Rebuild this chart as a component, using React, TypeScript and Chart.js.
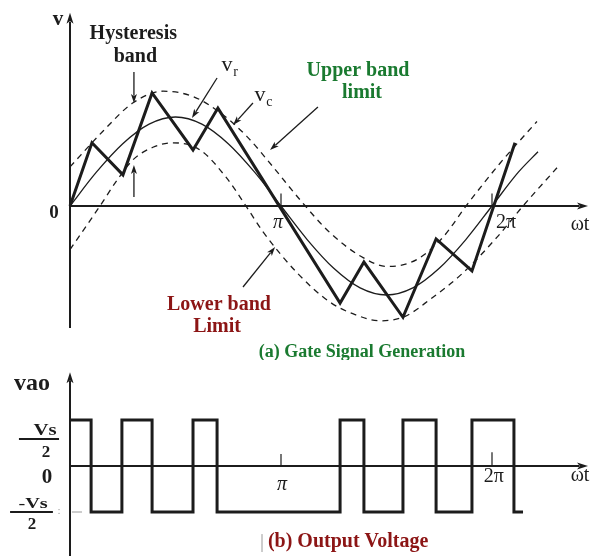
import React, { useEffect, useRef } from "react";
import { Chart, registerables } from "chart.js";

Chart.register(...registerables);

// ---------- data (x in multiples of π) ----------
// (a) top panel: y in units of the reference amplitude
const refX = [0, 0.125, 0.25, 0.375, 0.5, 0.625, 0.75, 0.875, 1, 1.125, 1.25, 1.375, 1.5, 1.625, 1.75, 1.875, 2, 2.125, 2.218];
const refV = [0, 0.38, 0.7, 0.92, 1.0, 0.92, 0.7, 0.38, 0, -0.38, -0.7, -0.92, -1.0, -0.92, -0.7, -0.38, 0, 0.38, 0.61];

const upperX = [0, 0.156, 0.299, 0.441, 0.583, 0.711, 0.839, 0.962, 1.09, 1.232, 1.389, 1.502, 1.645, 1.768, 1.877, 2.038, 2.213];
const upperV = [0.44, 0.84, 1.16, 1.29, 1.23, 1.05, 0.78, 0.44, 0.07, -0.3, -0.58, -0.68, -0.6, -0.35, 0.0, 0.48, 0.95];

const lowerX = [0, 0.142, 0.223, 0.299, 0.393, 0.488, 0.616, 0.744, 0.834, 0.915, 1.076, 1.232, 1.351, 1.469, 1.588, 1.706, 1.863, 2.024, 2.147, 2.308];
const lowerV = [-0.49, 0.0, 0.29, 0.52, 0.66, 0.71, 0.63, 0.31, 0.0, -0.29, -0.75, -1.08, -1.22, -1.29, -1.24, -1.05, -0.75, -0.35, 0.0, 0.43];

const vcX = [0, 0.104, 0.251, 0.389, 0.583, 0.701, 1.28, 1.393, 1.578, 1.735, 1.905, 2.109];
const vcV = [0, 0.71, 0.35, 1.27, 0.63, 1.1, -1.09, -0.63, -1.25, -0.37, -0.73, 0.71];

// (b) bottom panel: y in units of Vs/2 (level held after each switching instant)
const switchX = [0, 0.1, 0.246, 0.389, 0.583, 0.697, 1.28, 1.393, 1.578, 1.735, 1.905, 2.104, 2.147];
const switchLevel = [1, -1, 1, -1, 1, -1, 1, -1, 1, -1, 1, -1, -1];

const xTickValues = [1, 2];
const xTickLabels = ["π", "2π"];

// ---------- styling ----------
const FONT = "'Liberation Serif', 'Times New Roman', serif";
const INK = "#1c1c1c";
const GREEN = "#1a7a30";
const RED = "#8c1515";
const GREY = "#9a9a9a";

const W = 592;
const TOP_H = 360;
const BOT_H = 196;
const PX_PER_PI = 211;
const ORIGIN_X = 70;

const pts = (xs: number[], ys: number[]) => xs.map((x, i) => ({ x, y: ys[i] }));

type Ctx = CanvasRenderingContext2D;

function txt(ctx: Ctx, s: string, x: number, y: number, font: string, color = INK, sx = 1) {
  ctx.save();
  ctx.font = font + " " + FONT;
  ctx.fillStyle = color;
  ctx.textAlign = "center";
  ctx.textBaseline = "middle";
  ctx.translate(x, y);
  ctx.scale(sx, 1);
  ctx.fillText(s, 0, 0);
  ctx.restore();
}

function line(ctx: Ctx, x1: number, y1: number, x2: number, y2: number, lw: number, color = INK) {
  ctx.save();
  ctx.strokeStyle = color;
  ctx.lineWidth = lw;
  ctx.setLineDash([]);
  ctx.beginPath();
  ctx.moveTo(x1, y1);
  ctx.lineTo(x2, y2);
  ctx.stroke();
  ctx.restore();
}

function arrow(ctx: Ctx, x1: number, y1: number, x2: number, y2: number, lw: number, len = 9, half = 3.2) {
  const a = Math.atan2(y2 - y1, x2 - x1);
  const bx = x2 - Math.cos(a) * len * 0.8;
  const by = y2 - Math.sin(a) * len * 0.8;
  line(ctx, x1, y1, bx, by, lw);
  ctx.save();
  ctx.fillStyle = INK;
  ctx.beginPath();
  ctx.moveTo(x2, y2);
  ctx.lineTo(x2 - Math.cos(a) * len + Math.sin(a) * half, y2 - Math.sin(a) * len - Math.cos(a) * half);
  ctx.lineTo(x2 - Math.cos(a) * len * 0.75, y2 - Math.sin(a) * len * 0.75);
  ctx.lineTo(x2 - Math.cos(a) * len - Math.sin(a) * half, y2 - Math.sin(a) * len + Math.cos(a) * half);
  ctx.closePath();
  ctx.fill();
  ctx.restore();
}

function mapper(chart: any) {
  const sx = chart.scales.x;
  const sy = chart.scales.y;
  return (x: number, y: number): [number, number] => [sx.getPixelForValue(x), sy.getPixelForValue(y)];
}

const X_MIN = -ORIGIN_X / PX_PER_PI;
const X_MAX = (W - ORIGIN_X) / PX_PER_PI;

const topPlugin = {
  id: "topDecor",
  beforeDatasetsDraw(chart: any) {
    const ctx: Ctx = chart.ctx;
    const P = mapper(chart);
    // axes
    const [ax0, ay0] = P(0, -1.371);
    const [ax1, ay1] = P(0, 2.17);
    arrow(ctx, ax0, ay0, ax1, ay1, 2, 11, 3.5);
    const [hx0, hy0] = P(0, 0);
    const [hx1, hy1] = P(2.455, 0);
    arrow(ctx, hx0, hy0, hx1, hy1, 2, 11, 3.5);
    xTickValues.forEach((v) => {
      const [tx, ty] = P(v, 0);
      const [, ty2] = P(v, 0.14);
      line(ctx, tx, ty, tx, ty2, 1.2);
    });
  },
  afterDatasetsDraw(chart: any) {
    const ctx: Ctx = chart.ctx;
    const P = mapper(chart);
    const T = (s: string, x: number, y: number, font: string, color = INK, sx = 1) => {
      const [px, py] = P(x, y);
      txt(ctx, s, px, py, font, color, sx);
    };
    const A = (x1: number, y1: number, x2: number, y2: number) => {
      const [a, b] = P(x1, y1);
      const [c, d] = P(x2, y2);
      arrow(ctx, a, b, c, d, 1.3, 9, 3);
    };
    T("v", -0.057, 2.09, "bold 21px");
    T("Hysteresis", 0.3, 1.94, "bold 20px");
    T("band", 0.31, 1.68, "bold 20px");
    T("v", 0.744, 1.58, "22px");
    T("r", 0.785, 1.5, "14px");
    T("v", 0.9, 1.24, "22px");
    T("c", 0.945, 1.17, "14px");
    T("Upper band", 1.365, 1.52, "bold 20px", GREEN);
    T("limit", 1.384, 1.27, "bold 20px", GREEN);
    T("Lower band", 0.706, -1.11, "bold 20px", RED);
    T("Limit", 0.697, -1.36, "bold 20px", RED);
    T("(a) Gate Signal Generation", 1.384, -1.64, "bold 18px", GREEN);
    T("0", -0.076, -0.08, "bold 19px");
    T(xTickLabels[0], 0.986, -0.19, "italic 20px");
    T(xTickLabels[1], 2.066, -0.19, "20px");
    T("ωt", 2.417, -0.21, "20px");
    A(0.303, 1.506, 0.303, 1.157);
    A(0.303, 0.101, 0.303, 0.461);
    A(0.697, 1.438, 0.578, 0.989);
    A(0.867, 1.157, 0.773, 0.91);
    A(1.175, 1.112, 0.948, 0.629);
    A(0.82, -0.91, 0.972, -0.461);
  },
};

const botPlugin = {
  id: "botDecor",
  beforeDatasetsDraw(chart: any) {
    const ctx: Ctx = chart.ctx;
    const P = mapper(chart);
    const [ax0, ay0] = P(0, -2.0);
    const [ax1, ay1] = P(0, 2.04);
    arrow(ctx, ax0, ay0, ax1, ay1, 2, 11, 3.5);
    const [hx0, hy0] = P(0, 0);
    const [hx1, hy1] = P(2.455, 0);
    arrow(ctx, hx0, hy0, hx1, hy1, 2, 11, 3.5);
    xTickValues.forEach((v, i) => {
      const [tx, ty] = P(v, 0);
      const [, ty2] = P(v, i === 0 ? 0.26 : 0.3);
      line(ctx, tx, ty, tx, ty2, 1.2);
    });
    const [g0x, gy] = P(0.009, -1);
    const [g1x] = P(0.057, -1);
    line(ctx, g0x, gy, g1x, gy, 1, GREY);
  },
  afterDatasetsDraw(chart: any) {
    const ctx: Ctx = chart.ctx;
    const P = mapper(chart);
    const T = (s: string, x: number, y: number, font: string, color = INK, sx = 1) => {
      const [px, py] = P(x, y);
      txt(ctx, s, px, py, font, color, sx);
    };
    T("vao", -0.18, 1.78, "bold 24px");
    T("Vs", -0.118, 0.76, "bold 16px", INK, 1.3);
    {
      const [a, b] = P(-0.242, 0.587);
      const [c] = P(-0.052, 0.587);
      line(ctx, a, b, c, b, 2.2);
    }
    T("2", -0.114, 0.3, "bold 17px");
    T("0", -0.109, -0.26, "bold 21px");
    T("-Vs", -0.175, -0.83, "bold 14px", INK, 1.45);
    {
      const [a, b] = P(-0.284, -1.0);
      const [c] = P(-0.081, -1.0);
      line(ctx, a, b, c, b, 2.2);
    }
    T("2", -0.18, -1.28, "bold 17px");
    T(":", -0.052, -0.98, "11px", GREY);
    T(xTickLabels[0], 1.005, -0.41, "italic 20px");
    T(xTickLabels[1], 2.009, -0.24, "20px");
    T("ωt", 2.417, -0.22, "20px");
    T("(b) Output Voltage", 1.318, -1.65, "bold 20px", RED);
    {
      const [a, b] = P(0.91, -1.48);
      const [, d] = P(0.91, -1.87);
      line(ctx, a, b, a, d, 1, GREY);
    }
  },
};

export default function App() {
  const topRef = useRef<HTMLCanvasElement | null>(null);
  const botRef = useRef<HTMLCanvasElement | null>(null);

  useEffect(() => {
    if (!topRef.current || !botRef.current) return;
    const common = {
      animation: false as const,
      responsive: false,
      maintainAspectRatio: false,
      devicePixelRatio: 1,
      layout: { padding: 0 },
      events: [] as any[],
      plugins: { legend: { display: false }, tooltip: { enabled: false }, title: { display: false } },
      elements: { point: { radius: 0 } },
    };

    const top = new Chart(topRef.current, {
      type: "line",
      data: {
        datasets: [
          { label: "vc", data: pts(vcX, vcV), borderColor: INK, borderWidth: 3, tension: 0, pointRadius: 0, borderJoinStyle: "miter" },
          { label: "vr", data: pts(refX, refV), borderColor: INK, borderWidth: 1.3, cubicInterpolationMode: "monotone", pointRadius: 0 },
          { label: "upper", data: pts(upperX, upperV), borderColor: INK, borderWidth: 1.3, borderDash: [6, 5], cubicInterpolationMode: "monotone", pointRadius: 0 },
          { label: "lower", data: pts(lowerX, lowerV), borderColor: INK, borderWidth: 1.3, borderDash: [6, 5], cubicInterpolationMode: "monotone", pointRadius: 0 },
        ],
      } as any,
      options: {
        ...common,
        scales: {
          x: { type: "linear", display: false, min: X_MIN, max: X_MAX },
          y: { type: "linear", display: false, min: -154 / 89, max: 206 / 89 },
        },
      } as any,
      plugins: [topPlugin],
    });

    const bot = new Chart(botRef.current, {
      type: "line",
      data: {
        datasets: [
          { label: "vao", data: pts(switchX, switchLevel), borderColor: INK, borderWidth: 3, stepped: "before", pointRadius: 0, borderJoinStyle: "miter" },
        ],
      } as any,
      options: {
        ...common,
        scales: {
          x: { type: "linear", display: false, min: X_MIN, max: X_MAX },
          y: { type: "linear", display: false, min: -90 / 46, max: 106 / 46 },
        },
      } as any,
      plugins: [botPlugin],
    });

    return () => {
      top.destroy();
      bot.destroy();
    };
  }, []);

  return (
    <div style={{ position: "absolute", left: 0, top: 0, width: W, height: TOP_H + BOT_H, background: "#fff" }}>
      <canvas ref={topRef} width={W} height={TOP_H} style={{ display: "block", width: W, height: TOP_H }} />
      <canvas ref={botRef} width={W} height={BOT_H} style={{ display: "block", width: W, height: BOT_H }} />
    </div>
  );
}
